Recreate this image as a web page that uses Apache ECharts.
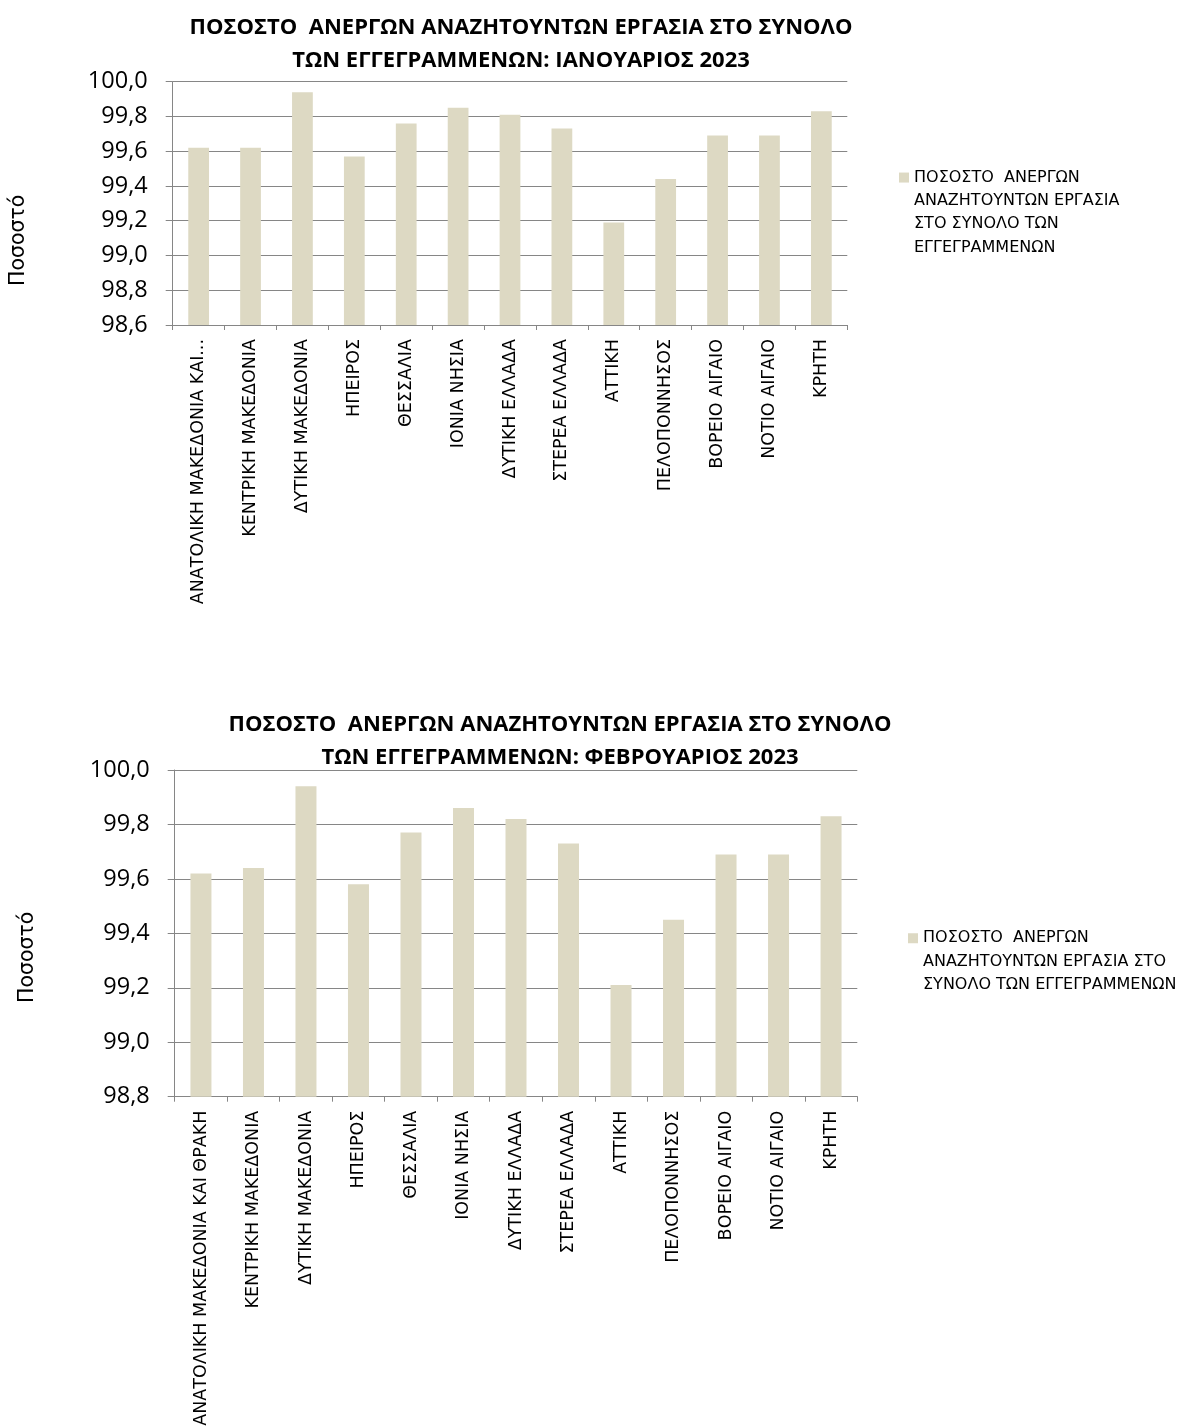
<!DOCTYPE html>
<html>
<head>
<meta charset="utf-8">
<script src="https://cdn.jsdelivr.net/npm/echarts@6/dist/echarts.min.js"></script>
<style>
html, body { margin: 0; padding: 0; background: #fff; }
#chartJan { position: absolute; left: 0; top: 0; width: 1182px; height: 700px; }
#chartFeb { position: absolute; left: 0; top: 700px; width: 1182px; height: 727px; }
</style>
</head>
<body>
<div id="chartJan"></div>
<div id="chartFeb"></div>
<script>
// περιφέρειες
const regions = ['ΑΝΑΤΟΛΙΚΗ ΜΑΚΕΔΟΝΙΑ ΚΑΙ ΘΡΑΚΗ', 'ΚΕΝΤΡΙΚΗ ΜΑΚΕΔΟΝΙΑ', 'ΔΥΤΙΚΗ ΜΑΚΕΔΟΝΙΑ', 'ΗΠΕΙΡΟΣ',
  'ΘΕΣΣΑΛΙΑ', 'ΙΟΝΙΑ ΝΗΣΙΑ', 'ΔΥΤΙΚΗ ΕΛΛΑΔΑ', 'ΣΤΕΡΕΑ ΕΛΛΑΔΑ', 'ΑΤΤΙΚΗ', 'ΠΕΛΟΠΟΝΝΗΣΟΣ',
  'ΒΟΡΕΙΟ ΑΙΓΑΙΟ', 'ΝΟΤΙΟ ΑΙΓΑΙΟ', 'ΚΡΗΤΗ']
const janValues = [99.62, 99.62, 99.94, 99.57, 99.76, 99.85, 99.81, 99.73, 99.19, 99.44, 99.69, 99.69, 99.83]
const febValues = [99.62, 99.64, 99.94, 99.58, 99.77, 99.86, 99.82, 99.73, 99.21, 99.45, 99.69, 99.69, 99.83]
// άξονας y: [min, max]
const janRange = [98.6, 100.0]
const febRange = [98.8, 100.0]
const tickStep = 0.2

const seriesName = 'ΠΟΣΟΣΤΟ  ΑΝΕΡΓΩΝ ΑΝΑΖΗΤΟΥΝΤΩΝ ΕΡΓΑΣΙΑ ΣΤΟ ΣΥΝΟΛΟ ΤΩΝ ΕΓΓΕΓΡΑΜΜΕΝΩΝ'
const titleLine1 = 'ΠΟΣΟΣΤΟ  ΑΝΕΡΓΩΝ ΑΝΑΖΗΤΟΥΝΤΩΝ ΕΡΓΑΣΙΑ ΣΤΟ ΣΥΝΟΛΟ'
const janTitle = titleLine1 + '\nΤΩΝ ΕΓΓΕΓΡΑΜΜΕΝΩΝ: ΙΑΝΟΥΑΡΙΟΣ 2023'
const febTitle = titleLine1 + '\nΤΩΝ ΕΓΓΕΓΡΑΜΜΕΝΩΝ: ΦΕΒΡΟΥΑΡΙΟΣ 2023'
const yName = 'Ποσοστό'

const axisGray = '#868686'
const barColor = '#DDD9C3'

// σπάσιμο κειμένου λεζάντας σε γραμμές
function wrapText(text, maxChars) {
  const words = text.split(' ')
  const lines = []
  let line = ''
  words.forEach(function (w) {
    if (line === '') {
      line = w
    } else if ((line + ' ' + w).length <= maxChars) {
      line = line + ' ' + w
    } else {
      lines.push(line)
      line = w
    }
  })
  if (line) lines.push(line)
  return lines
}

function buildOption(cfg) {
  const legendLines = wrapText(seriesName, cfg.wrapChars)
  // κενές γραμμές μπροστά ώστε το εικονίδιο να μένει στην πρώτη γραμμή
  const legendText = new Array(legendLines.length).join('\n') + legendLines.join('\n')
  return {
    animation: false,
    backgroundColor: '#fff',
    title: {
      text: cfg.title,
      left: cfg.titleX - 5,
      top: cfg.titleTop,
      textAlign: 'center',
      textStyle: {
        fontFamily: 'Open Sans',
        fontWeight: 'bold',
        fontSize: 22,
        lineHeight: 33,
        color: '#000'
      }
    },
    legend: {
      orient: 'vertical',
      left: cfg.legendLeft,
      top: cfg.legendTop,
      icon: 'rect',
      itemWidth: 10,
      itemHeight: 10,
      selectedMode: false,
      formatter: function () {
        return legendText
      },
      textStyle: {
        fontFamily: 'DejaVu Sans',
        fontSize: 16,
        lineHeight: 23.3,
        color: '#000'
      }
    },
    grid: {
      left: cfg.grid[0],
      right: 1182 - cfg.grid[1],
      top: cfg.grid[2],
      bottom: cfg.height - cfg.grid[3],
      outerBoundsMode: 'none'
    },
    xAxis: {
      type: 'category',
      data: regions,
      axisLine: { lineStyle: { color: axisGray } },
      axisTick: { show: true, length: 5, lineStyle: { color: axisGray } },
      axisLabel: {
        interval: 0,
        rotate: 90,
        margin: 14,
        color: '#000',
        fontFamily: 'DejaVu Sans',
        fontSize: 17.5,
        formatter: function (name) {
          // το Excel κόβει τις μεγάλες ετικέτες στο πρώτο γράφημα
          if (cfg.maxLabelChars && name.length > cfg.maxLabelChars) {
            return name.slice(0, cfg.maxLabelChars - 1) + '...'
          }
          return name
        }
      }
    },
    yAxis: {
      type: 'value',
      min: cfg.range[0],
      max: cfg.range[1],
      interval: tickStep,
      name: yName,
      nameLocation: 'middle',
      nameRotate: 90,
      nameGap: cfg.nameGap,
      nameTextStyle: {
        fontFamily: 'DejaVu Sans',
        fontSize: 20.5,
        color: '#000',
        padding: [0, cfg.nameShift * 2, 0, 0]
      },
      axisLine: { show: true, lineStyle: { color: axisGray } },
      axisTick: { show: true, length: 7, lineStyle: { color: axisGray } },
      axisLabel: {
        margin: 25,
        color: '#000',
        fontFamily: 'Open Sans',
        fontSize: 23.5,
        formatter: function (v) {
          return v.toFixed(1).replace('.', ',')
        }
      },
      splitLine: { show: true, lineStyle: { color: axisGray } }
    },
    series: [{
      name: seriesName,
      type: 'bar',
      barWidth: '40%',
      itemStyle: { color: barColor },
      data: cfg.values
    }]
  }
}

const janChart = echarts.init(document.getElementById('chartJan'))
janChart.setOption(buildOption({
  height: 700,
  title: janTitle,
  titleX: 521,
  titleTop: 6,
  values: janValues,
  range: janRange,
  grid: [172.7, 847.3, 81.7, 325],
  nameGap: 144,
  nameShift: 37,
  maxLabelChars: 24,
  wrapChars: 21,
  legendLeft: 894,
  legendTop: 91
}))

const febChart = echarts.init(document.getElementById('chartFeb'))
febChart.setOption(buildOption({
  height: 727,
  title: febTitle,
  titleX: 560,
  titleTop: 3,
  values: febValues,
  range: febRange,
  grid: [174.7, 857.3, 70, 396.7],
  nameGap: 137,
  nameShift: 24,
  maxLabelChars: 0,
  wrapChars: 26,
  legendLeft: 903,
  legendTop: 175
}))
</script>
</body>
</html>
